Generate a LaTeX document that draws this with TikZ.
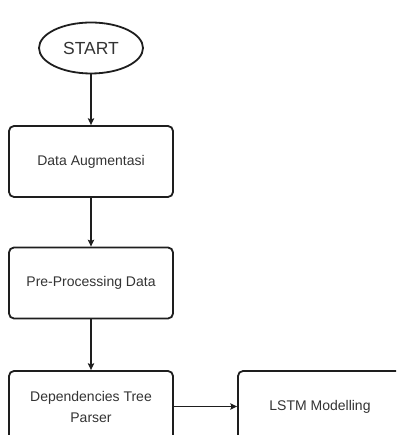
\documentclass[tikz,border=0pt]{standalone}
\usepackage{fontspec}
\setmainfont{Liberation Sans}
\usetikzlibrary{shapes.geometric,arrows.meta}
\definecolor{ink}{HTML}{1E1E1E}
\definecolor{txt}{HTML}{333333}
\tikzset{
  x=1pt,y=1pt,
  stepbox/.style={draw=ink,line width=1.8pt,rounded corners=5pt,minimum width=164pt,minimum height=71pt,
    text=txt,font=\fontsize{14}{21}\selectfont,align=center,inner sep=0pt},
  startnode/.style={draw=ink,ellipse,line width=1.8pt,minimum width=104pt,minimum height=51pt,
    text=txt,font=\fontsize{17.5}{20}\selectfont,inner sep=0pt},
  flow/.style={draw=ink,line width=1.1pt,-{Stealth[length=7pt,width=6.5pt,inset=1.5pt]}}
}
\begin{document}
\begin{tikzpicture}
\useasboundingbox (0,0) rectangle (396,435);
\clip (0,0) rectangle (396,435);
\node[startnode] (start) at (91,387) {START};
\node[stepbox] (aug) at (91,273.5) {Data Augmentasi};
\node[stepbox] (pre) at (91,152) {Pre-Processing Data};
\node[stepbox] (dep) at (91,28.5) {Dependencies Tree\\Parser};
\node[stepbox] (lstm) at (320,28.5) {LSTM Modelling};
\draw[flow] (start) -- (aug);
\draw[flow] (aug) -- (pre);
\draw[flow] (pre) -- (dep);
\draw[flow] (dep) -- (lstm);
\end{tikzpicture}
\end{document}
